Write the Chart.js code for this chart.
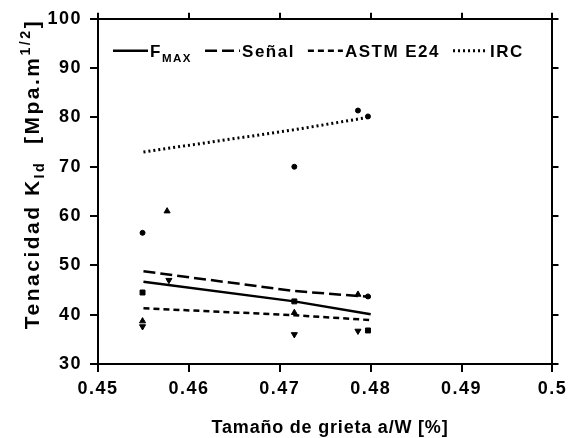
<!DOCTYPE html>
<html>
<head>
<meta charset="utf-8">
<script src="https://cdn.jsdelivr.net/npm/chart.js@4.4.1/dist/chart.umd.min.js"></script>
<style>
  html, body { margin: 0; padding: 0; background: #fff; }
  #chart { display: block; }
</style>
</head>
<body>
<canvas id="chart" width="571" height="438"></canvas>
<script>
// fitted lines (a/W vs K_Id)
const fitX = [0.455, 0.4716, 0.48];
const fmaxFit = [46.7, 42.7, 40.1];
const senalFit = [48.8, 44.8, 43.6];
const astmFit = [41.3, 39.9, 38.9];
const ircFit = [73.0, 77.5, 80.1];

// measured points, grouped by marker
const squareX = [0.4549, 0.4716, 0.4797];
const squareY = [44.5, 42.7, 36.8];
const triUpX = [0.4549, 0.4576, 0.4716, 0.4786];
const triUpY = [38.7, 61.0, 40.4, 44.1];
const triDownX = [0.4549, 0.4578, 0.4716, 0.4786];
const triDownY = [37.6, 47.0, 36.0, 36.7];
const dotX = [0.4549, 0.4716, 0.4786, 0.4797, 0.4797];
const dotY = [56.6, 70.0, 81.4, 80.2, 43.7];

const xTicks = [0.45, 0.46, 0.47, 0.48, 0.49, 0.5];
const xTitle = 'Tamaño de grieta a/W [%]';
const yTitle = 'Tenacidad K_{Id}  [Mpa.m^{1/2}]';

const FONT = '"Liberation Sans", Arial, sans-serif';

const pts = (xs, ys) => xs.map((x, i) => ({ x: x, y: ys[i] }));

function lineSet(label, ys, dash, width) {
    return {
        label: label,
        data: pts(fitX, ys),
        showLine: true,
        borderColor: '#000',
        borderWidth: width || 2.5,
        borderDash: dash,
        pointRadius: 0,
        fill: false,
        isLegend: true
    };
}

function markerSet(xs, ys, style, radius, rot) {
    return {
        data: pts(xs, ys),
        showLine: false,
        pointStyle: style,
        rotation: rot || 0,
        pointRadius: radius,
        backgroundColor: '#000',
        borderColor: '#000',
        borderWidth: 1
    };
}

// split "F_{MAX}" into normal / sub / sup parts
function parseRich(str) {
    const parts = [];
    const re = /([_^])\{([^}]*)\}/g;
    let last = 0, m;
    while ((m = re.exec(str)) !== null) {
        if (m.index > last) parts.push({ t: str.slice(last, m.index), mode: '' });
        parts.push({ t: m[2], mode: m[1] === '_' ? 'sub' : 'sup' });
        last = re.lastIndex;
    }
    if (last < str.length) parts.push({ t: str.slice(last), mode: '' });
    return parts;
}

function richWidth(ctx, parts, size, spacing) {
    let w = 0;
    parts.forEach(p => {
        const s = p.mode ? size * 0.68 : size;
        ctx.font = 'bold ' + s + 'px ' + FONT;
        ctx.letterSpacing = spacing + 'px';
        w += ctx.measureText(p.t).width;
    });
    return w;
}

// draws text around a vertical centre line cy; returns end x
function drawRich(ctx, str, x, cy, size, spacing, align) {
    const parts = parseRich(str);
    let cx = align === 'center' ? x - richWidth(ctx, parts, size, spacing) / 2 : x;
    const base = cy + size * 0.36;
    ctx.textAlign = 'left';
    ctx.textBaseline = 'alphabetic';
    ctx.fillStyle = '#000';
    parts.forEach(p => {
        const s = p.mode ? size * 0.68 : size;
        ctx.font = 'bold ' + s + 'px ' + FONT;
        ctx.letterSpacing = spacing + 'px';
        let dy = 0;
        if (p.mode === 'sub') dy = size * 0.28;
        if (p.mode === 'sup') dy = -size * 0.42;
        ctx.fillText(p.t, cx, base + dy);
        cx += ctx.measureText(p.t).width;
    });
    return cx;
}

const textPlugin = {
    id: 'textPlugin',
    beforeDraw(chart) {
        // wider tick labels, like the scanned original
        chart.ctx.letterSpacing = '1.5px';
    },
    afterDraw(chart) {
        const ctx = chart.ctx;
        const area = chart.chartArea;
        ctx.save();

        // legend row inside the plot
        let lx = area.left + 15;
        const ly = area.top + 32;
        chart.data.datasets.filter(d => d.isLegend).forEach(d => {
            ctx.beginPath();
            ctx.setLineDash(d.borderDash || []);
            ctx.lineWidth = d.borderWidth;
            ctx.strokeStyle = '#000';
            ctx.moveTo(lx, ly);
            ctx.lineTo(lx + 35, ly);
            ctx.stroke();
            ctx.setLineDash([]);
            lx = drawRich(ctx, d.label, lx + 37, ly, 17, 1.5, 'left') + 13;
        });

        // axis titles
        drawRich(ctx, xTitle, 330, 427, 18, 0.8, 'center');
        ctx.translate(31, 174);
        ctx.rotate(-Math.PI / 2);
        drawRich(ctx, yTitle, 0, 0, 21, 2.5, 'center');
        ctx.restore();
    }
};

const axisGrid = {
    display: true,
    drawOnChartArea: false,
    drawTicks: true,
    tickLength: 8,
    color: '#000',
    lineWidth: 2
};
const axisBorder = { display: true, color: '#000', width: 2 };

new Chart(document.getElementById('chart'), {
    type: 'scatter',
    data: {
        datasets: [
            lineSet('F_{MAX}', fmaxFit, []),
            lineSet('Señal', senalFit, [12, 5]),
            lineSet('ASTM E24', astmFit, [6, 4]),
            lineSet('IRC', ircFit, [2, 3], 3),
            markerSet(squareX, squareY, 'rect', 3.5),
            markerSet(triUpX, triUpY, 'triangle', 3.5),
            markerSet(triDownX, triDownY, 'triangle', 3.5, 180),
            markerSet(dotX, dotY, 'circle', 2.5)
        ]
    },
    options: {
        responsive: false,
        animation: false,
        layout: { padding: 0 },
        plugins: {
            legend: { display: false },
            tooltip: { enabled: false }
        },
        scales: {
            x: {
                type: 'linear',
                position: 'bottom',
                min: 0.45,
                max: 0.5,
                afterBuildTicks: s => { s.ticks = xTicks.map(v => ({ value: v })); },
                afterFit: s => { s.height = 74; },
                ticks: {
                    color: '#000',
                    padding: 6,
                    font: { family: FONT, size: 18, weight: 'bold' },
                    callback: v => String(Number(v.toFixed(2)))
                },
                grid: axisGrid,
                border: axisBorder
            },
            x2: {
                type: 'linear',
                position: 'top',
                min: 0.45,
                max: 0.5,
                afterBuildTicks: s => { s.ticks = xTicks.map(v => ({ value: v })); },
                afterFit: s => { s.height = 18; },
                ticks: { display: false },
                grid: Object.assign({}, axisGrid, { tickLength: 6 }),
                border: axisBorder
            },
            y: {
                position: 'left',
                min: 30,
                max: 100,
                afterFit: s => { s.width = 98; },
                ticks: {
                    stepSize: 10,
                    color: '#000',
                    padding: 8,
                    font: { family: FONT, size: 18, weight: 'bold' }
                },
                grid: axisGrid,
                border: axisBorder
            },
            y2: {
                position: 'right',
                min: 30,
                max: 100,
                afterFit: s => { s.width = 11; },
                ticks: { display: false, stepSize: 10 },
                grid: Object.assign({}, axisGrid, { tickLength: 6 }),
                border: axisBorder
            }
        }
    },
    plugins: [textPlugin]
});
</script>
</body>
</html>
